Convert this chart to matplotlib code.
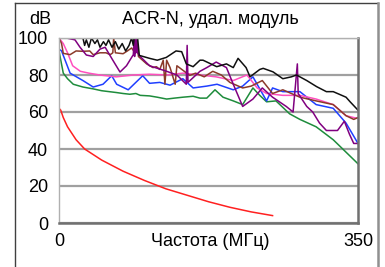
import matplotlib
matplotlib.use("Agg")
import matplotlib.pyplot as plt
from matplotlib.lines import Line2D
import numpy as np

plt.rcParams['font.family'] = ['Liberation Sans', 'DejaVu Sans']

title = "ACR-N, удал. модуль"
xlabel = "Частота (МГц)"
ylabel = "dB"
yticks = [0, 20, 40, 60, 80, 100]
xtick_labels = ["0", "350"]

red_f = [0, 2, 5, 10, 20, 30, 50, 75, 100, 125, 150, 175, 200, 225, 250]
red_v = [62, 61, 57, 52, 45, 40, 34, 28, 23, 18.5, 15, 11.5, 8.5, 6, 4]

green_f = [0, 5, 10, 16.7, 28, 40, 50, 67.5, 75, 83, 90, 95, 106, 115, 126, 135, 145, 157, 165, 173, 182.6, 192, 204, 215, 227, 235, 243, 254, 270, 282, 301, 321, 350]
green_v = [93, 81, 78, 75, 73.5, 72.5, 71.5, 70.5, 70, 69.6, 70, 69, 68.7, 68, 67, 67.5, 68, 68.5, 67.5, 67.5, 72, 68, 66, 64, 73, 69, 65.5, 66, 59, 56, 52, 45, 32]

blue_f = [0, 3, 13, 28, 40, 51.5, 61.7, 67.5, 81, 98, 106, 118, 130, 145, 157, 173, 185, 204, 215, 227, 243, 250, 262, 282, 301, 321, 336, 350]
blue_v = [94, 93, 81, 77, 73.5, 75, 79.6, 75, 72, 79.6, 75.5, 76, 74.5, 78, 73, 74, 75, 72, 74, 79, 66, 73, 71, 71, 64, 62, 54, 43]

pink_f = [0, 5, 10, 16, 25, 35, 47.6, 67, 87, 106, 126, 145, 165, 184, 204, 220, 232, 243, 262, 282, 301, 321, 336, 345, 350]
pink_v = [100, 97, 92, 85, 82, 81, 80, 79, 80, 80.4, 80, 81, 80, 79, 77, 80, 73, 70, 69, 69, 67, 64, 58, 57, 56.5]

brown_f = [0, 3, 5, 13, 20, 28, 36, 40, 48, 55, 60, 63, 64, 66, 75, 80, 85, 89, 91, 93, 102.6, 110, 114, 118, 122, 124, 126, 130, 136, 138, 153, 160, 170, 180, 190, 200, 215, 225, 238, 250, 262, 282, 301, 321, 336, 345, 350]
brown_v = [100, 97, 91.7, 91, 93, 92.8, 93, 91, 92, 92, 91, 92, 100, 92, 91.5, 93, 94.6, 92, 100, 90, 86, 84, 84.5, 83, 88, 75, 88, 84, 75, 85, 79.8, 81, 79, 82, 80, 76, 73, 74, 77, 70, 72, 68, 66, 64, 58, 56, 57]

purple_f = [0, 8.6, 18.7, 24.6, 32, 40, 48, 54, 63, 71.4, 79, 87, 88, 88.5, 89.5, 90, 91, 92, 95, 106, 126, 138, 149, 150, 151, 165, 173, 184, 196, 204, 215, 227, 238, 250, 266, 274, 279, 280, 290, 297, 305, 313, 326, 334, 340, 345, 350]
purple_v = [100, 100, 99, 95, 90.8, 90, 94, 95, 88, 81.6, 85, 91, 100, 90, 100, 92, 100, 92, 90, 85, 82, 80, 75, 96, 76, 82, 84, 87, 84, 75, 63, 67, 73, 68, 63, 60, 86, 70, 63, 60, 54, 50, 50, 55, 48, 43, 43]

black_f = [0, 10, 28, 30, 32, 35, 38, 42, 45, 48, 52, 55, 58, 62, 66, 70, 74, 78, 82, 85, 87, 88, 92, 94, 106, 115, 125.6, 137, 143.6, 149, 157, 165, 168.6, 184.6, 196, 204, 209.6, 219, 223.6, 235, 239, 250.5, 262, 272, 278, 290, 301.6, 313, 321, 336, 340.6, 350]
black_v = [100, 100, 100, 96, 99, 95, 100, 97, 99, 95, 98, 96, 99, 95, 98, 94, 97, 93, 96, 100, 96, 100, 100, 90.6, 89, 88, 89.5, 93, 92.6, 86, 84.5, 88, 88, 84.5, 86, 84, 89, 84, 79, 83, 83.6, 81.7, 78, 79, 80, 77, 73.7, 71, 71, 68, 65.6, 61]

series = [
    (red_f, red_v, '#ff2020'),
    (green_f, green_v, '#1e8c3c'),
    (blue_f, blue_v, '#1f3fff'),
    (pink_f, pink_v, '#ff4fbf'),
    (brown_f, brown_v, '#8b3a2a'),
    (purple_f, purple_v, '#800080'),
    (black_f, black_v, '#101010'),
]

FS = 13

fig = plt.figure(figsize=(3.85, 2.67), dpi=100)
ax = fig.add_axes([59/385, 1-223/267, 299/385, 185/267])

for f, v, c in series:
    ax.plot(f, np.minimum(v, 100), color=c, lw=1.1, clip_on=True)

ax.set_xlim(0, 350)
ax.set_ylim(0, 100)
ax.set_yticks(yticks)
ax.set_yticklabels([str(t) for t in yticks], fontsize=FS)
ax.set_xticks([0, 350])
ax.set_xticklabels(xtick_labels, fontsize=FS)
ax.tick_params(axis='x', length=0, pad=7)
ax.tick_params(axis='y', length=0, pad=8)
ax.grid(axis='y', color='#a0a0a0', lw=1.6)
ax.set_axisbelow(True)
for s in ['left', 'top']:
    ax.spines[s].set_color('#b0b0b0')
    ax.spines[s].set_linewidth(1.0)
for s in ['right', 'bottom']:
    ax.spines[s].set_color('#707070')
    ax.spines[s].set_linewidth(1.8)

fig.text(210/385, 1-19/267, title, ha='center', va='center', fontsize=FS)
fig.text(40/385, 1-19/267, ylabel, ha='center', va='center', fontsize=FS)
fig.text(210/385, 1-241/267, xlabel, ha='center', va='center', fontsize=FS)

# outer frame
fig.add_artist(Line2D([15/385, 15/385], [0, 1-3/267], color='#404040', lw=1.0, transform=fig.transFigure))
fig.add_artist(Line2D([15/385, 378/385], [1-3/267, 1-3/267], color='#404040', lw=1.0, transform=fig.transFigure))
fig.add_artist(Line2D([378/385, 378/385], [0, 1-3/267], color='#909090', lw=1.8, transform=fig.transFigure))

fig.savefig('out.png', dpi=100)
